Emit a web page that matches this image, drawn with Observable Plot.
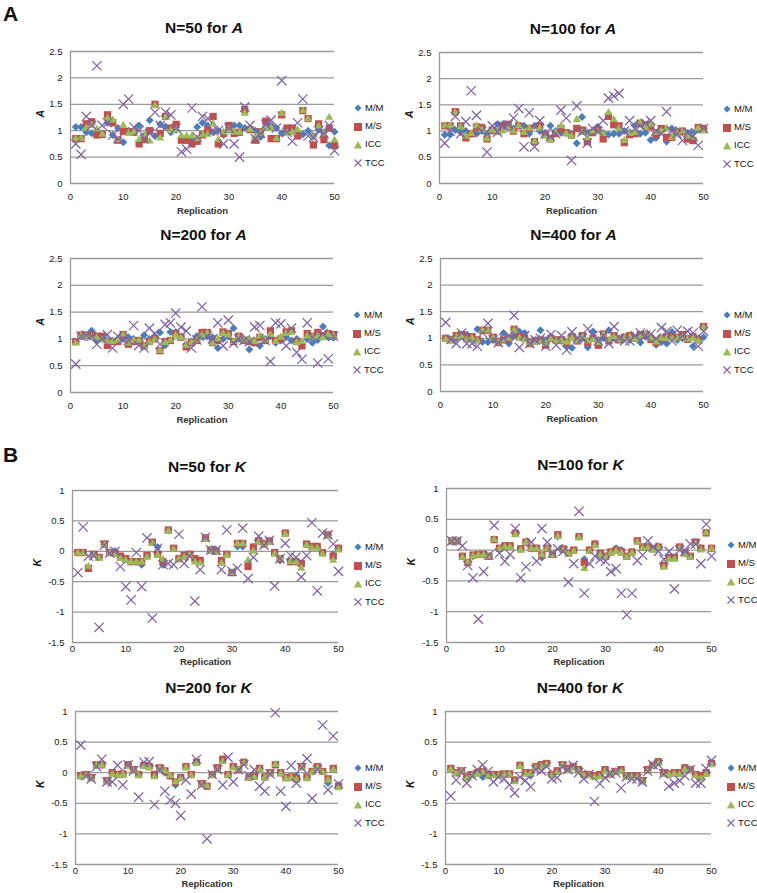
<!DOCTYPE html>
<html><head><meta charset="utf-8">
<script src="https://cdn.jsdelivr.net/npm/d3@7"></script>
<script src="https://cdn.jsdelivr.net/npm/@observablehq/plot@0.6"></script>
<style>
body{margin:0;background:#fff;}
#root{position:relative;width:757px;height:893px;font-family:"Liberation Sans",Arial,sans-serif;color:#111;overflow:hidden;}
.abs{position:absolute;}
.title{font-weight:bold;font-size:15.5px;transform:translate(-50%,-50%);white-space:nowrap;}
.letter{font-weight:bold;font-size:21px;line-height:21px;}
.leg{font-size:9.5px;line-height:18.3px;white-space:nowrap;}
.leg svg{vertical-align:middle;margin-right:2px;}
</style></head><body><div id="root"></div>
<script>
// ---------- data ----------
const replication = d3.range(1, 51);
const seriesNames = ["M/M", "M/S", "ICC", "TCC"];
const xTicks = [0, 10, 20, 30, 40, 50];
const yTicksA = [0, 0.5, 1, 1.5, 2, 2.5];
const yTicksK = [-1.5, -1, -0.5, 0, 0.5, 1];

// Panel A, N=50
const A50_MM = [1.07,1.07,0.97,0.95,0.97,0.95,1.15,0.92,1.05,0.78, 1.0,1.0,1.1,0.92,1.2,0.9,1.12,1.08,0.97,1.02, 0.85,0.85,0.85,1.07,1.15,1.1,0.97,1.0,0.92,1.02, 1.1,1.1,1.05,1.05,1.0,0.88,1.08,1.1,1.05,0.95, 1.0,0.98,0.95,0.93,1.0,0.9,1.02,0.97,0.72,0.98];
const A50_MS = [0.85,0.85,1.13,1.17,0.92,0.93,1.3,1.15,0.82,0.99, 0.98,0.97,0.75,0.83,1.0,1.5,0.95,1.27,1.05,1.12, 0.82,0.82,0.75,0.8,0.92,1.02,1.27,0.75,0.95,1.1, 0.95,0.97,1.4,1.02,0.82,0.98,1.18,0.85,0.85,1.3, 1.05,1.05,0.9,1.38,1.23,0.73,1.13,0.83,1.05,0.72];
const A50_ICC = [0.85,0.85,1.05,1.1,1.03,0.93,1.23,1.2,0.83,1.1, 0.95,0.97,0.83,0.92,0.8,1.47,0.86,1.25,1.0,1.02, 0.9,0.9,0.9,0.85,0.92,0.93,1.13,0.83,0.97,1.02, 0.97,0.97,1.33,1.02,0.88,0.95,1.05,1.05,0.85,1.33, 0.95,0.97,1.02,1.38,1.22,0.88,1.08,0.95,1.25,0.82];
const A50_TCC = [0.75,0.55,1.27,1.1,2.23,1.1,1.15,0.92,0.85,1.5, 1.6,1.07,1.0,0.85,0.95,1.35,1.1,1.35,1.3,1.05, 0.6,0.65,1.43,0.88,1.27,1.23,1.0,1.0,0.75,1.05, 0.75,0.5,1.45,1.1,0.85,0.95,1.12,1.2,1.05,1.95, 0.97,0.8,1.15,1.6,0.9,0.87,1.0,0.95,1.1,0.62];

// Panel A, N=100
const A100_MM = [0.93,0.93,1.02,0.98,1.0,0.95,0.95,1.0,0.95,1.0, 1.13,1.13,1.08,1.05,1.1,1.1,0.95,1.1,1.0,0.97, 1.1,1.0,0.97,0.97,0.95,0.77,1.27,0.97,1.0,1.08, 0.97,0.93,0.95,0.95,1.0,0.98,1.1,0.95,0.97,0.83, 0.87,1.0,0.8,1.05,1.0,0.98,0.97,0.97,1.03,1.05];
const A100_MS = [1.1,1.1,1.37,1.1,0.87,0.95,1.08,1.07,0.85,1.02, 1.0,1.1,1.13,1.0,1.1,0.95,1.05,0.8,1.1,0.93, 0.85,0.95,1.05,0.97,0.92,1.05,1.02,0.8,0.97,1.02, 0.85,1.28,1.12,1.1,0.78,0.93,0.95,1.15,1.12,1.08, 0.93,1.05,0.88,0.88,0.97,1.0,0.85,0.82,1.07,1.05];
const A100_ICC = [1.1,1.1,1.35,1.08,0.9,0.95,1.1,1.02,0.85,1.02, 1.0,1.0,1.08,1.0,1.1,0.97,1.05,0.8,1.05,0.9, 0.83,0.97,1.1,0.95,0.9,1.22,0.97,0.87,1.0,0.98, 0.95,1.35,1.22,1.05,0.82,0.95,0.97,1.15,1.07,1.12, 0.97,1.0,1.05,0.88,0.95,1.0,0.9,0.88,1.05,1.0];
const A100_TCC = [0.77,1.0,1.28,0.95,1.18,1.77,1.3,1.0,0.6,1.1, 0.98,1.1,1.12,1.25,1.43,0.7,1.35,0.7,1.2,0.95, 0.9,0.95,1.4,1.25,0.44,1.48,0.98,0.77,1.05,1.0, 1.2,1.63,1.67,1.72,1.0,1.2,1.05,1.1,1.15,1.2, 1.0,0.95,1.37,1.0,0.95,0.82,0.97,0.9,0.73,1.05];

// Panel A, N=200
const A200_MM = [0.95,1.05,1.07,1.15,0.97,1.0,0.98,0.97,1.0,1.0, 1.03,1.0,0.97,1.07,1.0,1.05,1.12,0.88,1.13,1.13, 1.05,0.9,0.95,1.05,1.05,1.05,1.03,0.83,1.0,1.05, 1.2,1.0,1.0,0.8,0.97,0.87,1.0,1.05,0.93,0.97, 1.03,0.97,1.0,0.9,1.0,0.93,0.98,1.23,1.03,1.02];
const A200_MS = [0.95,1.07,1.07,1.07,1.05,1.05,0.88,0.95,0.95,1.08, 0.9,0.95,0.97,0.87,0.95,1.0,0.78,0.95,0.97,1.1, 1.03,0.85,0.93,0.97,1.12,1.12,0.93,0.97,1.13,1.1, 0.95,1.05,0.97,0.95,0.93,1.03,0.97,1.15,0.97,1.0, 1.13,1.15,0.95,0.87,1.1,1.05,1.12,1.05,1.1,1.08];
const A200_ICC = [0.92,1.05,1.05,1.03,1.02,0.98,0.95,0.95,0.97,1.08, 0.92,0.97,0.97,0.85,0.93,0.98,0.78,0.93,0.97,1.07, 1.02,0.88,0.93,0.97,1.07,1.1,0.92,1.0,1.1,1.07, 0.95,1.03,0.97,1.0,0.95,1.05,0.97,1.08,0.95,1.03, 1.1,1.12,0.93,0.95,1.05,1.03,1.05,1.02,1.08,1.05];
const A200_TCC = [0.53,1.05,1.07,1.05,0.9,1.0,1.08,0.83,1.05,1.0, 0.97,1.25,0.88,0.83,1.2,1.1,0.9,1.27,1.3,1.48, 1.22,1.15,0.83,0.98,1.6,1.05,1.0,1.3,0.87,1.35, 0.92,1.0,0.97,0.95,1.22,1.25,0.97,0.58,1.3,1.28, 0.87,1.2,0.75,0.62,1.3,1.03,0.55,1.1,0.63,1.05];

// Panel A, N=400
const A400_MM = [1.0,0.98,1.0,1.05,1.07,1.0,1.17,0.93,0.93,0.97, 0.95,1.1,0.9,1.05,1.13,1.1,0.93,0.97,1.15,0.97, 1.03,0.97,0.95,0.85,0.82,0.97,1.0,0.83,1.13,0.97, 1.0,1.15,1.0,1.0,1.0,0.97,1.0,0.92,1.03,1.0, 0.88,0.93,0.9,1.12,0.97,1.0,1.0,0.85,1.0,1.02];
const A400_MS = [1.0,0.97,1.05,1.07,1.0,1.03,0.97,1.15,1.15,1.02, 0.92,0.97,1.0,1.17,1.03,1.0,0.9,0.95,0.97,0.87, 1.0,0.97,0.97,0.92,1.03,0.95,1.05,0.92,1.0,0.87, 1.08,0.95,1.05,0.97,1.02,1.05,1.0,1.07,1.07,0.98, 0.92,1.0,1.03,1.03,1.02,1.07,0.98,1.03,0.97,1.22];
const A400_ICC = [0.98,0.95,1.03,1.05,0.97,1.0,0.95,1.15,1.15,1.0, 0.92,0.97,1.0,1.15,1.0,0.97,0.9,0.93,0.95,0.9, 0.98,0.95,0.95,0.93,1.0,0.95,1.03,0.95,0.98,0.92, 1.07,0.97,1.03,0.97,1.0,1.02,0.98,1.05,1.07,1.0, 0.93,1.0,1.0,1.0,1.0,1.03,0.98,1.0,0.95,1.2];
const A400_TCC = [1.3,0.98,0.9,1.1,0.9,0.9,0.85,1.1,1.28,0.97, 0.92,1.0,1.05,1.43,0.83,1.05,0.9,0.97,1.0,0.85, 1.07,0.87,1.05,0.78,1.12,1.0,1.0,1.18,1.05,0.95, 1.05,0.9,1.22,1.0,0.95,0.95,1.05,1.1,1.05,1.08, 1.0,1.2,1.13,0.95,1.15,1.05,1.13,1.1,0.85,1.13];

// Panel B, N=50
const K50_MM = [-0.02,-0.02,-0.27,-0.05,-0.1,0.12,-0.02,0.0,-0.08,-0.12, -0.17,-0.17,-0.22,-0.07,0.15,0.07,-0.22,0.35,0.05,-0.12, -0.07,-0.05,-0.12,-0.15,0.22,0.02,0.02,-0.17,-0.05,-0.35, 0.08,0.08,-0.17,0.07,0.17,0.12,0.17,-0.02,-0.15,0.3, -0.17,-0.17,-0.2,0.12,0.08,0.08,-0.02,0.27,-0.05,0.05];
const K50_MS = [-0.02,-0.02,-0.28,-0.05,-0.1,0.12,-0.02,-0.03,-0.08,-0.12, -0.17,-0.17,-0.17,-0.07,0.15,-0.05,-0.17,0.35,0.05,-0.12, -0.07,-0.05,-0.12,-0.15,0.22,0.02,0.0,-0.15,-0.05,-0.35, 0.13,0.13,-0.25,0.07,0.17,0.12,0.17,-0.02,-0.12,0.3, -0.17,-0.17,-0.2,0.12,0.08,0.08,-0.02,0.27,-0.08,0.05];
const K50_ICC = [-0.03,-0.03,-0.25,-0.07,-0.12,0.1,-0.03,-0.05,-0.12,-0.15, -0.18,-0.18,-0.18,-0.1,0.13,-0.07,-0.13,0.33,0.03,-0.13, -0.1,-0.07,-0.18,-0.2,0.2,0.0,-0.02,-0.2,-0.07,-0.35, 0.12,0.12,-0.15,0.0,0.15,0.1,0.15,-0.05,-0.12,0.28, -0.17,-0.18,-0.28,0.1,0.05,0.05,-0.05,0.25,-0.15,0.02];
const K50_TCC = [-0.35,0.4,-0.08,-0.07,-1.25,0.1,-0.03,0.0,-0.25,-0.58, -0.8,-0.02,-0.58,0.22,-1.1,0.05,-0.22,-0.2,-0.22,0.28, -0.2,-0.08,-0.82,-0.3,0.23,0.02,0.02,-0.3,0.35,-0.33, -0.28,0.38,-0.45,-0.1,0.25,0.1,0.18,-0.57,-0.12,0.13, -0.07,-0.1,-0.42,-0.07,0.47,-0.65,0.3,0.27,0.12,-0.33];

// Panel B, N=100
const K100_MM = [0.15,0.15,-0.1,-0.2,-0.1,-0.07,-0.07,-0.1,0.17,0.03, 0.07,0.07,0.27,0.02,0.13,0.03,0.03,-0.12,0.03,-0.07, 0.22,0.02,-0.05,0.0,0.22,-0.15,0.0,0.1,-0.05,-0.1, -0.03,0.03,0.0,-0.1,-0.03,0.15,0.05,0.05,0.02,0.05, -0.25,-0.12,-0.12,0.05,-0.03,-0.1,0.13,0.03,0.28,0.03];
const K100_MS = [0.15,0.15,-0.1,-0.2,-0.08,-0.07,-0.07,-0.1,0.17,0.03, 0.07,0.07,0.27,0.02,0.13,0.03,0.03,-0.08,0.03,-0.07, 0.25,0.02,-0.05,0.0,0.22,-0.2,0.0,0.1,-0.05,-0.1, -0.03,0.0,-0.03,-0.1,-0.03,0.15,0.05,0.05,0.02,0.05, -0.25,-0.12,-0.12,0.05,-0.05,-0.1,0.13,0.03,0.28,0.03];
const K100_ICC = [0.15,0.15,-0.12,-0.2,-0.1,-0.08,-0.08,-0.1,0.17,0.02, 0.05,0.05,0.25,0.0,0.12,0.02,0.02,-0.08,0.02,-0.08, 0.22,0.0,-0.07,-0.02,0.2,-0.3,-0.02,0.07,-0.08,-0.12, -0.05,-0.02,-0.05,-0.12,-0.05,0.13,0.03,0.03,0.0,0.03, -0.28,-0.15,-0.15,0.03,-0.07,-0.12,0.1,0.0,0.28,0.02];
const K100_TCC = [0.15,0.15,0.07,-0.25,-0.45,-1.12,-0.35,-0.08,0.4,-0.05, -0.18,-0.07,0.35,-0.45,-0.27,0.13,-0.18,0.35,0.13,-0.05, 0.02,-0.02,-0.52,-0.22,0.63,-0.7,-0.22,-0.1,-0.15,-0.18, -0.35,-0.3,-0.7,-1.05,-0.7,-0.17,-0.08,0.15,0.05,-0.02, -0.15,-0.02,-0.63,0.0,-0.02,0.1,0.1,-0.22,0.42,-0.1];

// Panel B, N=200
const K200_MM = [-0.05,-0.03,-0.08,0.13,0.13,-0.13,0.0,-0.03,-0.02,0.13, 0.05,-0.03,0.12,0.1,-0.03,0.08,0.0,-0.05,-0.2,-0.08, 0.1,-0.03,0.17,-0.18,-0.22,-0.03,0.08,0.22,-0.03,0.1, 0.05,0.17,-0.07,-0.05,0.07,-0.07,0.0,0.13,0.0,-0.08, -0.07,-0.05,0.1,-0.07,0.02,0.1,0.02,-0.17,0.07,-0.2];
const K200_MS = [-0.05,-0.03,-0.08,0.13,0.13,-0.13,0.0,-0.03,-0.02,0.13, 0.05,-0.03,0.12,0.1,-0.03,0.08,0.03,-0.05,-0.15,-0.08, 0.1,-0.03,0.17,-0.18,-0.22,-0.03,0.08,0.22,-0.03,0.1, 0.05,0.17,-0.07,-0.05,0.07,-0.07,0.0,0.13,0.0,-0.08, -0.07,-0.1,0.1,-0.07,0.02,0.1,0.02,-0.1,0.07,-0.22];
const K200_ICC = [-0.07,-0.05,-0.1,0.12,0.12,-0.15,-0.03,-0.05,-0.03,0.1, 0.03,-0.05,0.1,0.08,-0.07,0.07,0.02,-0.05,-0.15,-0.1, 0.08,-0.05,0.15,-0.2,-0.22,-0.05,0.05,0.18,-0.05,0.08, 0.05,0.15,-0.08,-0.08,0.05,-0.08,-0.02,0.13,-0.02,-0.1, -0.08,-0.12,0.08,-0.1,0.0,0.08,0.0,-0.12,0.05,-0.25];
const K200_TCC = [0.45,-0.05,-0.1,0.1,0.22,-0.15,-0.15,0.12,-0.2,0.13, 0.03,-0.4,0.17,0.18,-0.52,0.05,-0.3,-0.45,-0.5,-0.7, -0.12,-0.35,0.22,-0.2,-1.08,-0.03,0.05,-0.2,0.25,-0.15, 0.05,0.13,-0.05,0.05,-0.22,-0.3,-0.02,0.98,-0.3,-0.55, 0.12,-0.17,0.08,0.23,-0.42,0.05,0.78,-0.28,0.6,-0.18];

// Panel B, N=400
const K400_MM = [0.07,0.0,0.03,-0.07,-0.03,0.0,-0.07,-0.03,-0.03,-0.03, -0.02,-0.02,-0.12,0.12,0.0,-0.05,0.1,0.13,0.15,-0.03, 0.03,0.13,0.07,0.1,0.05,-0.03,-0.03,-0.05,-0.03,0.05, -0.02,0.02,0.05,-0.05,-0.05,-0.05,-0.13,0.05,0.12,0.18, 0.0,-0.02,0.0,0.0,0.08,0.05,-0.03,-0.05,0.0,0.15];
const K400_MS = [0.07,0.0,0.03,-0.07,-0.03,0.0,0.02,-0.03,-0.03,-0.03, -0.02,-0.02,-0.12,0.12,0.0,0.0,0.1,0.13,0.15,-0.03, 0.03,0.13,0.07,0.1,0.05,-0.03,-0.03,-0.05,-0.03,0.05, -0.02,0.02,0.05,-0.05,-0.05,-0.05,-0.13,0.05,0.12,0.18, 0.0,-0.02,0.0,0.0,0.08,0.05,-0.03,-0.05,0.0,0.15];
const K400_ICC = [0.05,-0.02,0.02,-0.1,-0.05,-0.02,0.0,-0.07,-0.05,-0.05, -0.03,-0.03,-0.15,0.1,-0.02,-0.02,0.08,0.1,0.13,-0.05, 0.0,0.12,0.03,0.08,0.02,-0.05,-0.05,-0.08,-0.07,0.02, -0.03,0.0,0.02,-0.07,-0.07,-0.07,-0.15,0.02,0.1,0.15, -0.03,-0.03,-0.02,-0.03,0.05,0.03,-0.05,-0.1,-0.03,0.13];
const K400_TCC = [-0.38,-0.12,0.02,-0.17,-0.05,0.05,0.13,0.02,-0.15,-0.07, -0.1,-0.2,-0.33,-0.07,-0.13,-0.23,0.05,0.03,0.1,-0.1, -0.08,0.1,0.05,0.12,0.0,-0.1,-0.03,-0.47,-0.18,-0.08, -0.02,0.0,-0.25,-0.07,-0.1,-0.1,-0.15,0.02,0.13,0.13, -0.02,-0.22,-0.17,-0.13,-0.05,0.05,-0.17,-0.17,0.07,0.2];

// ---------- styling ----------
const COLORS = {"M/M": "#4a7ebb", "M/S": "#c0504d", "ICC": "#9bbb59", "TCC": "#7f63a1"};
const GRID = "#9a9a9a";
const FONT = "'Liberation Sans', Arial, sans-serif";

const root = document.getElementById("root");

function addDiv(cls, html, style) {
  const d = document.createElement("div");
  d.className = "abs " + cls;
  d.innerHTML = html;
  Object.assign(d.style, style);
  root.appendChild(d);
  return d;
}

function legendGlyph(name) {
  const c = COLORS[name];
  if (name === "M/M") return `<svg width="10" height="10"><path d="M5,1.5L8.5,5L5,8.5L1.5,5Z" fill="${c}"/></svg>`;
  if (name === "M/S") return `<svg width="10" height="10"><rect x="1" y="1" width="8" height="8" fill="${c}"/></svg>`;
  if (name === "ICC") return `<svg width="10" height="10"><path d="M5,1L9.2,8.5L0.8,8.5Z" fill="${c}"/></svg>`;
  return `<svg width="10" height="10"><path d="M1.5,1.5L8.5,8.5M8.5,1.5L1.5,8.5" stroke="${c}" stroke-width="1.1"/></svg>`;
}

function panel(cfg) {
  const {n, param, mm, ms, icc, tcc, left, right, top, bottom, kind} = cfg;
  const isA = kind === "A";
  const ml = 50, mr = 6, mt = 6, mb = 40;
  const rows = replication.map((r, i) => ({rep: r, mm: mm[i], ms: ms[i], icc: icc[i], tcc: tcc[i]}));
  const yTicks = isA ? yTicksA : yTicksK;
  const chart = Plot.plot({
    width: right - left + ml + mr,
    height: bottom - top + mt + mb,
    marginLeft: ml, marginRight: mr, marginTop: mt, marginBottom: mb,
    style: {fontFamily: FONT, fontSize: "9.5px", color: "#1a1a1a", background: "transparent", overflow: "visible"},
    x: {domain: [0, 50]},
    y: {domain: isA ? [0, 2.5] : [-1.5, 1]},
    marks: [
      Plot.gridY(yTicks, {stroke: GRID, strokeOpacity: 1, strokeWidth: 1.3}),
      Plot.ruleX([0], {stroke: GRID, strokeWidth: 1.3}),
      Plot.axisY(yTicks, {tickSize: 0, tickPadding: 8, tickFormat: d => String(d), label: null}),
      Plot.axisX(xTicks, {tickSize: 0, tickPadding: isA ? 10 : 2.5, label: null}),
      Plot.text([param], {text: d => d, frameAnchor: "left", dx: isA ? -30 : -35, rotate: -90,
        fontWeight: "bold", fontStyle: "italic", fontSize: 10.5}),
      Plot.text(["Replication"], {text: d => d, frameAnchor: "bottom", dy: isA ? 30 : 22,
        fontWeight: "bold", fontSize: 9.5, fill: "#333"}),
      Plot.dot(rows, {x: "rep", y: "mm", symbol: "diamond2", fill: COLORS["M/M"], r: 3.6}),
      Plot.dot(rows, {x: "rep", y: "ms", symbol: "square", fill: COLORS["M/S"], r: 4.1}),
      Plot.dot(rows, {x: "rep", y: "icc", symbol: "triangle2", fill: COLORS["ICC"], r: 3.9}),
      Plot.dot(rows, {x: "rep", y: "tcc", symbol: "times", stroke: COLORS["TCC"], strokeWidth: 1.25, r: 4.3})
    ]
  });
  chart.style.position = "absolute";
  chart.style.left = (left - ml) + "px";
  chart.style.top = (top - mt) + "px";
  root.appendChild(chart);

  addDiv("title", `N=${n} for <i>${param}</i>`, {left: ((left + right) / 2 + 2) + "px", top: (top - 23) + "px"});

  const lx = right + (isA ? 24 : 20) - 5;
  const leg = seriesNames.map(s => `<div>${legendGlyph(s)}${s}</div>`).join("");
  addDiv("leg", leg, {left: lx + "px", top: (top + 57 - 9.15) + "px"});
}

addDiv("letter", "A", {left: "3px", top: "3px"});
addDiv("letter", "B", {left: "3px", top: "444px"});

panel({n: 50, param: "A", kind: "A", mm: A50_MM, ms: A50_MS, icc: A50_ICC, tcc: A50_TCC, left: 70, right: 334, top: 51, bottom: 183});
panel({n: 100, param: "A", kind: "A", mm: A100_MM, ms: A100_MS, icc: A100_ICC, tcc: A100_TCC, left: 439, right: 703, top: 52, bottom: 183});
panel({n: 200, param: "A", kind: "A", mm: A200_MM, ms: A200_MS, icc: A200_ICC, tcc: A200_TCC, left: 70, right: 333, top: 258, bottom: 392});
panel({n: 400, param: "A", kind: "A", mm: A400_MM, ms: A400_MS, icc: A400_ICC, tcc: A400_TCC, left: 440, right: 703, top: 258, bottom: 391});
panel({n: 50, param: "K", kind: "K", mm: K50_MM, ms: K50_MS, icc: K50_ICC, tcc: K50_TCC, left: 72, right: 338, top: 490, bottom: 642});
panel({n: 100, param: "K", kind: "K", mm: K100_MM, ms: K100_MS, icc: K100_ICC, tcc: K100_TCC, left: 446, right: 711, top: 488, bottom: 642});
panel({n: 200, param: "K", kind: "K", mm: K200_MM, ms: K200_MS, icc: K200_ICC, tcc: K200_TCC, left: 75, right: 338, top: 711, bottom: 864});
panel({n: 400, param: "K", kind: "K", mm: K400_MM, ms: K400_MS, icc: K400_ICC, tcc: K400_TCC, left: 445, right: 711, top: 711, bottom: 864});
</script></body></html>
